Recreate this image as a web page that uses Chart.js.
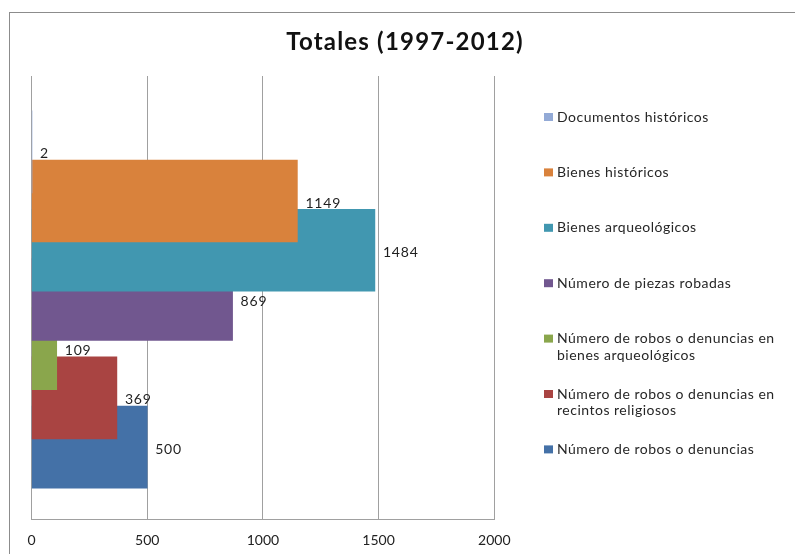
<!DOCTYPE html>
<html><head><meta charset="utf-8">
<script src="https://cdn.jsdelivr.net/npm/chart.js@4"></script>
<style>html,body{margin:0;padding:0;background:#fff;overflow:hidden}</style>
</head><body>
<canvas id="c" width="795" height="554"></canvas>
<script>
// ---- data ----
const chartTitle = 'Totales (1997-2012)';
const seriesNames = [
  'Documentos históricos',
  'Bienes históricos',
  'Bienes arqueológicos',
  'Número de piezas robadas',
  'Número de robos o denuncias en bienes arqueológicos',
  'Número de robos o denuncias en recintos religiosos',
  'Número de robos o denuncias'
];
const seriesValues = [2, 1149, 1484, 869, 109, 369, 500];
const seriesColors = ['#93AAD6', '#D9823C', '#4197B0', '#71578F', '#8AA64C', '#A94442', '#4471A7'];
const xTicks = [0, 500, 1000, 1500, 2000];

const FONT = 'Lato, "Liberation Sans", sans-serif';

function wrapText(ctx, text, maxW) {
  const words = text.split(' ');
  const lines = [];
  let cur = '';
  for (const w of words) {
    const t = cur ? cur + ' ' + w : w;
    if (ctx.measureText(t).width > maxW && cur) { lines.push(cur); cur = w; }
    else cur = t;
  }
  if (cur) lines.push(cur);
  return lines;
}

const decor = {
  id: 'decor',
  beforeDraw(chart) {
    const ctx = chart.ctx;
    ctx.save();
    ctx.fillStyle = '#fff';
    ctx.fillRect(0, 0, chart.width, chart.height);
    ctx.strokeStyle = '#8c8c8c';
    ctx.lineWidth = 1;
    ctx.strokeRect(9.5, 12.5, 900, 700);
    ctx.restore();
  },
  afterDatasetsDraw(chart) {
    const ctx = chart.ctx;
    ctx.save();
    ctx.font = '14px ' + FONT;
    ctx.letterSpacing = '0.8px';
    ctx.fillStyle = '#1f1f1f';
    ctx.textBaseline = 'middle';
    ctx.textAlign = 'left';
    chart.data.datasets.forEach((ds, i) => {
      const meta = chart.getDatasetMeta(i);
      meta.data.forEach((el, j) => {
        ctx.fillText(String(ds.data[j].x), el.x + 8, el.y + 2);
      });
    });
    ctx.restore();
  },
  afterDraw(chart) {
    const ctx = chart.ctx;
    ctx.save();
    // title
    ctx.font = 'bold 24px ' + FONT;
    ctx.letterSpacing = '1.2px';
    ctx.fillStyle = '#111';
    ctx.textAlign = 'center';
    ctx.textBaseline = 'middle';
    ctx.fillText(chartTitle, 405, 42);
    // legend
    ctx.font = '14px ' + FONT;
    ctx.letterSpacing = '0.5px';
    ctx.textAlign = 'left';
    chart.data.datasets.forEach((ds, i) => {
      const y0 = 117 + 55.4 * i;
      ctx.fillStyle = ds.backgroundColor;
      ctx.fillRect(544, y0 - 4, 9, 8);
      ctx.fillStyle = '#262626';
      const lines = wrapText(ctx, ds.label, 228);
      lines.forEach((ln, k) => ctx.fillText(ln, 557, y0 + k * 16.7));
    });
    ctx.restore();
  }
};

new Chart(document.getElementById('c'), {
  type: 'bar',
  data: {
    datasets: seriesNames.map((name, i) => ({
      label: name,
      data: [{ x: seriesValues[i], y: i }],
      backgroundColor: seriesColors[i],
      borderWidth: 0,
      barThickness: 82,
      grouped: false
    }))
  },
  options: {
    indexAxis: 'y',
    responsive: false,
    animation: false,
    layout: { padding: { left: 31.5, right: 300.7, top: 76, bottom: 0 } },
    plugins: { legend: { display: false }, title: { display: false }, tooltip: { enabled: false } },
    scales: {
      y: {
        type: 'linear',
        reverse: true,
        offset: false,
        min: -1.54,
        max: 7.46,
        ticks: { display: false },
        grid: { display: false, drawTicks: false, offset: false },
        border: { display: true, color: '#a0a0a0' },
        afterFit(s) { s.width = 0; }
      },
      x: {
        type: 'linear',
        min: xTicks[0],
        max: xTicks[xTicks.length - 1],
        afterBuildTicks(s) { s.ticks = xTicks.map(v => ({ value: v })); },
        ticks: { font: { size: 14, family: FONT }, color: '#222', padding: 13, callback: v => String(v) },
        grid: { color: '#a0a0a0', drawTicks: false },
        border: { color: '#a0a0a0' },
        afterFit(s) { s.height = 35; }
      }
    }
  },
  plugins: [decor]
});
</script>
</body></html>
